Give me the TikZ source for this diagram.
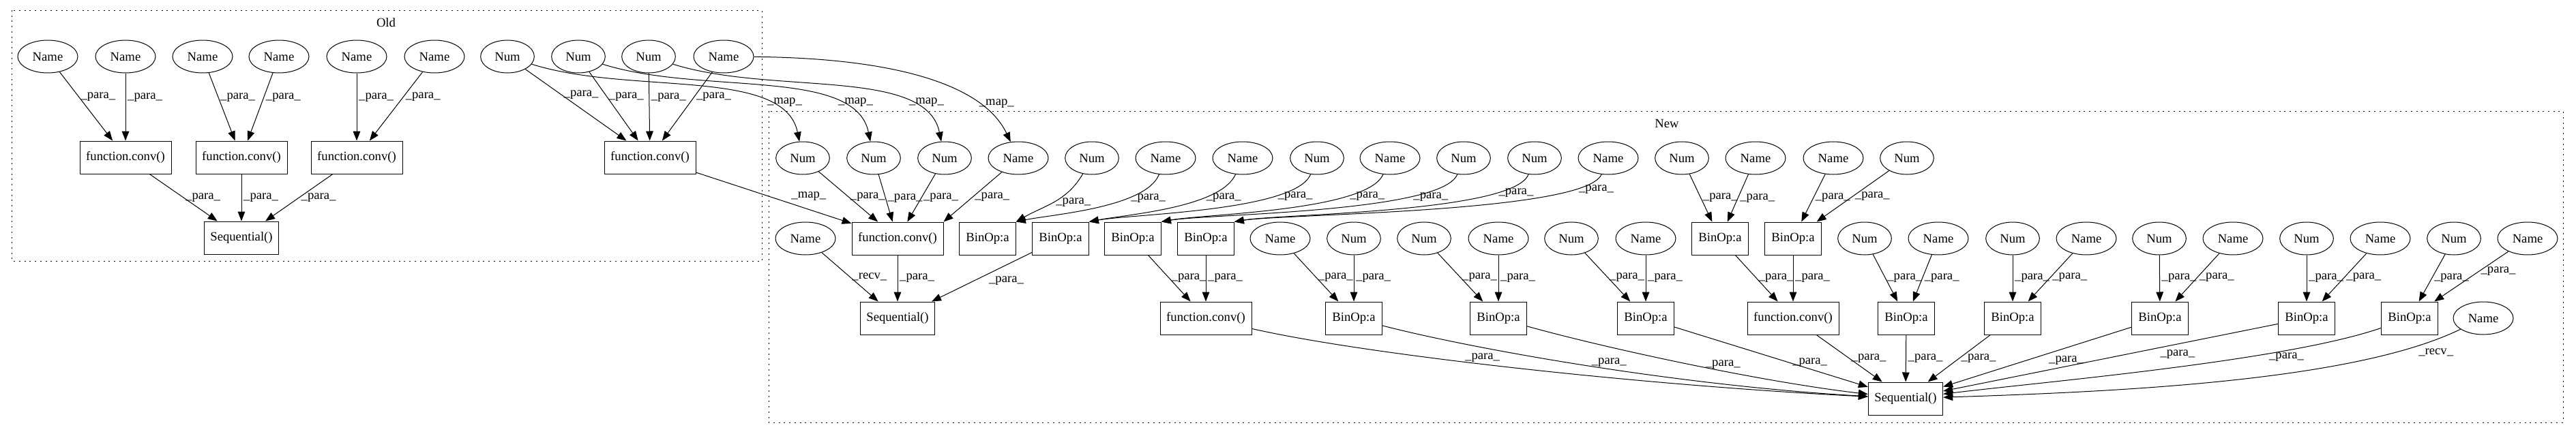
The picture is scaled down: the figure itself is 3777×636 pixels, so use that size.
\documentclass[tikz,border=0pt]{standalone}
\usepackage{fontspec}
\setmainfont{Liberation Serif}
\usetikzlibrary{shapes.geometric, arrows.meta}

\begin{document}
\begin{tikzpicture}[
  x=0.75pt, y=-0.75pt, line width=0.75pt,
  every node/.style={font=\fontsize{14}{16}\selectfont},
  box/.style={draw, rectangle, minimum height=36pt, inner sep=0pt},
  fn/.style={box, minimum width=100.5pt},
  seqbox/.style={box, minimum width=82pt},
  binop/.style={box, minimum width=62pt},
  nm/.style={draw, ellipse, minimum width=66pt, minimum height=36pt, inner sep=0pt},
  num/.style={nm, minimum width=59pt},
  arc/.style={-{Triangle[length=10.5pt, width=8pt]}},
  lbl/.style={inner sep=2pt},
  cluster/.style={dash pattern=on 1.5pt off 4.3pt}
]

\useasboundingbox (0, 0) rectangle (3777, 636);

\draw[cluster] (17, 15) rectangle (1117, 383);
\node (oldtitle) at (566, 33) {Old};
\draw[cluster] (1127, 163) rectangle (3758, 620);
\node (newtitle) at (2444, 181) {New};

\node[nm] (old1) at (70, 83) {Name};
\node[nm] (old2) at (184, 83) {Name};
\node[nm] (old3) at (297, 83) {Name};
\node[nm] (old4) at (409, 83) {Name};
\node[nm] (old5) at (523, 83) {Name};
\node[nm] (old6) at (637, 83) {Name};
\node[num] (old7) at (744, 83) {Num};
\node[num] (old8) at (848, 83) {Num};
\node[num] (old9) at (951, 83) {Num};
\node[nm] (old10) at (1061, 83) {Name};

\node[fn] (oconv1) at (184, 231) {function.conv()};
\node[fn] (oconv2) at (354, 231) {function.conv()};
\node[fn] (oconv3) at (523, 231) {function.conv()};
\node[fn] (oconv4) at (953, 231) {function.conv()};
\node[seqbox] (oseq) at (354, 349) {Sequential()};

\node[num] (t1) at (1177, 232) {Num};
\node[num] (t2) at (1281, 232) {Num};
\node[num] (t3) at (1385, 232) {Num};
\node[nm] (t4) at (1493, 232) {Name};
\node[num] (t5) at (1601, 232) {Num};
\node[nm] (t6) at (1709, 232) {Name};
\node[nm] (t7) at (1822, 232) {Name};
\node[num] (t8) at (1931, 232) {Num};
\node[nm] (t9) at (2038, 232) {Name};
\node[num] (t10) at (2146, 232) {Num};
\node[num] (t11) at (2250, 232) {Num};
\node[nm] (t12) at (2358, 232) {Name};
\node[num] (t13) at (2466, 232) {Num};
\node[nm] (t14) at (2574, 232) {Name};
\node[nm] (t15) at (2688, 232) {Name};
\node[num] (t16) at (2796, 232) {Num};

\node[nm] (m1) at (1181, 350) {Name};
\node[fn] (m2) at (1316, 350) {function.conv()};
\node[binop] (m3) at (1448, 350) {BinOp:a};
\node[binop] (m4) at (1555, 350) {BinOp:a};
\node[binop] (m5) at (1661, 350) {BinOp:a};
\node[binop] (m6) at (1768, 350) {BinOp:a};
\node[nm] (m7) at (1877, 350) {Name};
\node[num] (m8) at (1985, 350) {Num};
\node[num] (m9) at (2088, 350) {Num};
\node[nm] (m10) at (2197, 350) {Name};
\node[num] (m11) at (2304, 350) {Num};
\node[nm] (m12) at (2413, 350) {Name};
\node[binop] (m13) at (2522, 350) {BinOp:a};
\node[binop] (m14) at (2629, 350) {BinOp:a};
\node[num] (m15) at (2734, 350) {Num};
\node[nm] (m16) at (2842, 350) {Name};
\node[num] (m17) at (2951, 350) {Num};
\node[nm] (m18) at (3059, 350) {Name};
\node[num] (m19) at (3166, 350) {Num};
\node[nm] (m20) at (3274, 350) {Name};
\node[num] (m21) at (3382, 350) {Num};
\node[nm] (m22) at (3490, 350) {Name};
\node[num] (m23) at (3598, 350) {Num};
\node[nm] (m24) at (3706, 350) {Name};

\node[seqbox] (b1) at (1316, 467) {Sequential()};
\node[fn] (b2) at (1768, 467) {function.conv()};
\node[binop] (b3) at (1985, 467) {BinOp:a};
\node[binop] (b4) at (2197, 467) {BinOp:a};
\node[binop] (b5) at (2413, 467) {BinOp:a};
\node[fn] (b6) at (2629, 467) {function.conv()};
\node[binop] (b7) at (2795, 467) {BinOp:a};
\node[binop] (b8) at (2951, 467) {BinOp:a};
\node[binop] (b9) at (3167, 467) {BinOp:a};
\node[binop] (b10) at (3382, 467) {BinOp:a};
\node[binop] (b11) at (3533, 467) {BinOp:a};
\node[nm] (b12) at (3641, 467) {Name};

\node[seqbox] (seqnew) at (2794, 585) {Sequential()};

\draw[arc] (old1) -- node[lbl, pos=0.36, right] {\_para\_} (oconv1);
\draw[arc] (old2) -- node[lbl, pos=0.36, right] {\_para\_} (oconv1);
\draw[arc] (old3) -- node[lbl, pos=0.36, right] {\_para\_} (oconv2);
\draw[arc] (old4) -- node[lbl, pos=0.36, right] {\_para\_} (oconv2);
\draw[arc] (old5) -- node[lbl, pos=0.36, right] {\_para\_} (oconv3);
\draw[arc] (old6) -- node[lbl, pos=0.36, right] {\_para\_} (oconv3);
\draw[arc] (old7) -- node[lbl, pos=0.36, right] {\_para\_} (oconv4);
\draw[arc] (old8) -- node[lbl, pos=0.36, right] {\_para\_} (oconv4);
\draw[arc] (old9) -- node[lbl, pos=0.36, right] {\_para\_} (oconv4);
\draw[arc] (old10) -- node[lbl, pos=0.36, right] {\_para\_} (oconv4);
\draw[arc] (oconv1) -- node[lbl, midway, right] {\_para\_} (oseq);
\draw[arc] (oconv2) -- node[lbl, midway, right] {\_para\_} (oseq);
\draw[arc] (oconv3) -- node[lbl, midway, right] {\_para\_} (oseq);

\draw[arc] (old7) .. controls (925, 140) and (1150, 98) .. node[lbl, pos=0.75, right] {\_map\_} (t1);
\draw[arc] (old8) .. controls (1029, 140) and (1254, 98) .. node[lbl, pos=0.75, right] {\_map\_} (t2);
\draw[arc] (old9) .. controls (1133, 140) and (1358, 98) .. node[lbl, pos=0.75, right] {\_map\_} (t3);
\draw[arc] (old10) .. controls (1300, 85) and (1440, 120) .. node[lbl, pos=0.75, right] {\_map\_} (t4);
\draw[arc] (oconv4) -- node[lbl, pos=0.6, above right] {\_map\_} (m2);

\draw[arc] (t1) -- node[lbl, midway, right] {\_para\_} (m2);
\draw[arc] (t2) -- node[lbl, midway, right] {\_para\_} (m2);
\draw[arc] (t3) -- node[lbl, midway, right] {\_para\_} (m2);
\draw[arc] (t4) -- node[lbl, midway, right] {\_para\_} (m2.north east);
\draw[arc] (t5) to[out=-120, in=30] node[lbl, midway, right] {\_para\_} (m3.north east);
\draw[arc] (t6) .. controls (1680, 305) and (1540, 315) .. node[lbl, pos=0.3, right] {\_para\_} (m3.north east);
\draw[arc] (t7) .. controls (1790, 305) and (1650, 315) .. node[lbl, pos=0.3, right] {\_para\_} (m4.north east);
\draw[arc] (t8) .. controls (1900, 310) and (1660, 314) .. node[lbl, pos=0.25, right] {\_para\_} (m4.north east);
\draw[arc] (t9) .. controls (2005, 310) and (1765, 314) .. node[lbl, pos=0.25, right] {\_para\_} (m5.north east);
\draw[arc] (t10) .. controls (2115, 312) and (1770, 314) .. node[lbl, pos=0.25, right] {\_para\_} (m5.north east);
\draw[arc] (t11) .. controls (2220, 312) and (1875, 314) .. node[lbl, pos=0.2, right] {\_para\_} (m6.north east);
\draw[arc] (t12) .. controls (2325, 312) and (1880, 314) .. node[lbl, pos=0.15, right] {\_para\_} (m6.north east);
\draw[arc] (t13) -- node[lbl, midway, right] {\_para\_} (m13);
\draw[arc] (t14) -- node[lbl, midway, right] {\_para\_} (m13);
\draw[arc] (t15) -- node[lbl, midway, right] {\_para\_} (m14);
\draw[arc] (t16) -- node[lbl, midway, right] {\_para\_} (m14);

\draw[arc] (m1) -- node[lbl, midway, right] {\_recv\_} (b1);
\draw[arc] (m2) -- node[lbl, midway, right] {\_para\_} (b1);
\draw[arc] (m4) -- node[lbl, pos=0.45, below right] {\_para\_} (b1);
\draw[arc] (m5) -- node[lbl, midway, right] {\_para\_} (b2);
\draw[arc] (m6) -- node[lbl, midway, right] {\_para\_} (b2);
\draw[arc] (m7) -- node[lbl, midway, right] {\_para\_} (b3);
\draw[arc] (m8) -- node[lbl, midway, right] {\_para\_} (b3);
\draw[arc] (m9) -- node[lbl, midway, right] {\_para\_} (b4);
\draw[arc] (m10) -- node[lbl, midway, right] {\_para\_} (b4);
\draw[arc] (m11) -- node[lbl, midway, right] {\_para\_} (b5);
\draw[arc] (m12) -- node[lbl, midway, right] {\_para\_} (b5);
\draw[arc] (m13) -- node[lbl, midway, right] {\_para\_} (b6);
\draw[arc] (m14) -- node[lbl, midway, right] {\_para\_} (b6);
\draw[arc] (m15) -- node[lbl, midway, right] {\_para\_} (b7);
\draw[arc] (m16) -- node[lbl, midway, right] {\_para\_} (b7);
\draw[arc] (m17) -- node[lbl, midway, right] {\_para\_} (b8);
\draw[arc] (m18) -- node[lbl, midway, right] {\_para\_} (b8);
\draw[arc] (m19) -- node[lbl, midway, right] {\_para\_} (b9);
\draw[arc] (m20) -- node[lbl, midway, right] {\_para\_} (b9);
\draw[arc] (m21) -- node[lbl, midway, right] {\_para\_} (b10);
\draw[arc] (m22) -- node[lbl, midway, right] {\_para\_} (b10);
\draw[arc] (m23) -- node[lbl, midway, right] {\_para\_} (b11);
\draw[arc] (m24) -- node[lbl, pos=0.4, right] {\_para\_} (b11);

\draw[arc] (b2) .. controls (2000, 520) and (2400, 565) .. node[lbl, pos=0.45, above] {\_para\_} (seqnew);
\draw[arc] (b3) .. controls (2150, 510) and (2450, 565) .. node[lbl, pos=0.55, above] {\_para\_} (seqnew);
\draw[arc] (b4) .. controls (2350, 510) and (2580, 560) .. node[lbl, pos=0.6, above] {\_para\_} (seqnew);
\draw[arc] (b5) -- node[lbl, pos=0.7, above] {\_para\_} (seqnew);
\draw[arc] (b6) -- node[lbl, midway, right] {\_para\_} (seqnew);
\draw[arc] (b7) -- node[lbl, midway, right] {\_para\_} (seqnew);
\draw[arc] (b8) -- node[lbl, midway, right] {\_para\_} (seqnew);
\draw[arc] (b9) -- node[lbl, pos=0.45, below right] {\_para\_} (seqnew);
\draw[arc] (b10) -- node[lbl, pos=0.3, below=4pt] {\_para\_} (seqnew);
\draw[arc] (b11) .. controls (3350, 530) and (3000, 560) .. node[lbl, pos=0.25, below] {\_para\_} (seqnew);
\draw[arc] (b12) .. controls (3450, 560) and (3100, 575) .. node[lbl, pos=0.12, below right] {\_recv\_} (seqnew);

\end{tikzpicture}
\end{document}
